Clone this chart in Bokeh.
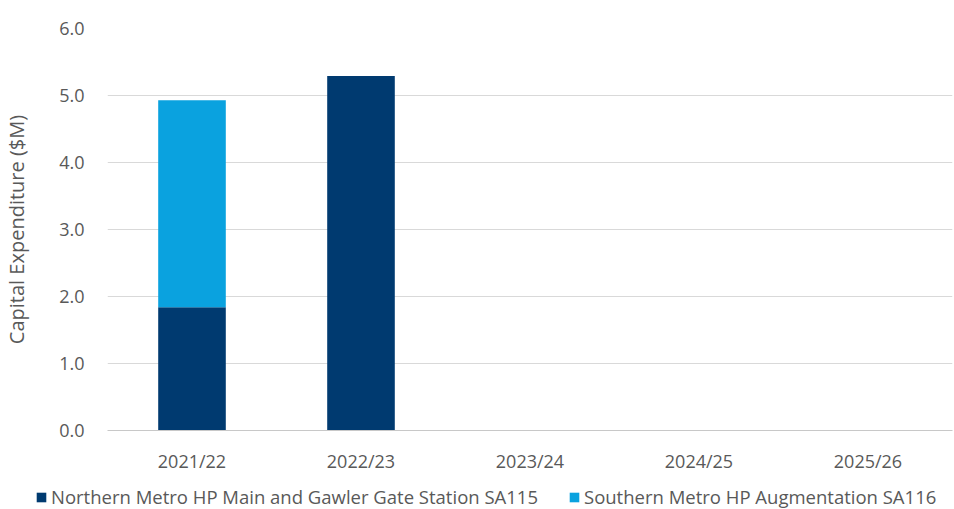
from bokeh.plotting import figure
from bokeh.layouts import column
from bokeh.models import (FixedTicker, NumeralTickFormatter, Legend, LegendItem,
                          Range1d, ColumnDataSource)
from bokeh.embed import file_html
from bokeh.resources import INLINE

years = ["2021/22", "2022/23", "2023/24", "2024/25", "2025/26"]
northern = [1.84, 5.29, 0.0, 0.0, 0.0]
southern = [3.09, 0.0, 0.0, 0.0, 0.0]
series_names = ["Northern Metro HP Main and Gawler Gate Station SA115",
                "Southern Metro HP Augmentation SA116"]
colors = ["#003A70", "#0AA2DF"]
y_ticks = [0, 1, 2, 3, 4, 5, 6]

FONT = "Open Sans"
TXT = "#595959"

src = ColumnDataSource({"years": years, "northern": northern, "southern": southern})

p = figure(width=954, height=476, x_range=years, y_range=Range1d(0, 6),
           output_backend="svg", toolbar_location=None,
           min_border_left=107, min_border_right=2, min_border_top=28,
           min_border_bottom=46)
p.frame_align = False

rs = p.vbar_stack(["northern", "southern"], x="years", width=0.4, color=colors,
                  source=src, line_width=0)

p.outline_line_color = None
p.xgrid.grid_line_color = None
p.ygrid.grid_line_color = "#D9D9D9"
p.ygrid.grid_line_width = 1

p.yaxis.ticker = FixedTicker(ticks=y_ticks)
p.yaxis.formatter = NumeralTickFormatter(format="0.0")
p.yaxis.axis_line_color = None
p.yaxis.major_tick_line_color = None
p.yaxis.minor_tick_line_color = None
p.yaxis.major_label_text_font = FONT
p.yaxis.major_label_text_font_size = "18px"
p.yaxis.major_label_text_color = TXT
p.yaxis.major_label_standoff = 17
p.yaxis.axis_label = "Capital Expenditure ($M)"
p.yaxis.axis_label_text_font = FONT
p.yaxis.axis_label_text_font_style = "normal"
p.yaxis.axis_label_text_font_size = "20px"
p.yaxis.axis_label_text_color = TXT
p.yaxis.axis_label_standoff = 26

p.xaxis.axis_line_color = "#C8C8C8"
p.xaxis.major_tick_line_color = None
p.xaxis.minor_tick_line_color = None
p.xaxis.major_label_text_font = FONT
p.xaxis.major_label_text_font_size = "18px"
p.xaxis.major_label_text_color = TXT
p.xaxis.major_label_standoff = 12

# legend strip below the chart (hidden copies of the series supply the legend swatches)
p2 = figure(width=954, height=33, x_range=years, output_backend="svg",
            toolbar_location=None, x_axis_type=None, y_axis_type=None,
            min_border_left=0, min_border_right=0, min_border_top=0,
            min_border_bottom=0)
p2.frame_align = False
p2.outline_line_color = None
p2.xgrid.grid_line_color = None
p2.ygrid.grid_line_color = None
lr = p2.vbar_stack(["northern", "southern"], x="years", width=0.4, color=colors,
                   source=src, line_width=0)
for r in lr:
    r.visible = False

legend = Legend(items=[LegendItem(label=series_names[0], renderers=[lr[0]]),
                       LegendItem(label=series_names[1], renderers=[lr[1]])],
                orientation="horizontal", location=(35, 0),
                label_text_font=FONT, label_text_font_size="18.5px",
                label_text_color=TXT, glyph_width=12, glyph_height=12,
                label_standoff=4, spacing=30, padding=2, margin=0,
                label_height=18, inactive_fill_alpha=0,
                border_line_color=None, background_fill_alpha=0)
p2.add_layout(legend, "center")

layout = column(p, p2, spacing=0)
open("out.html", "w").write(file_html(layout, INLINE))
